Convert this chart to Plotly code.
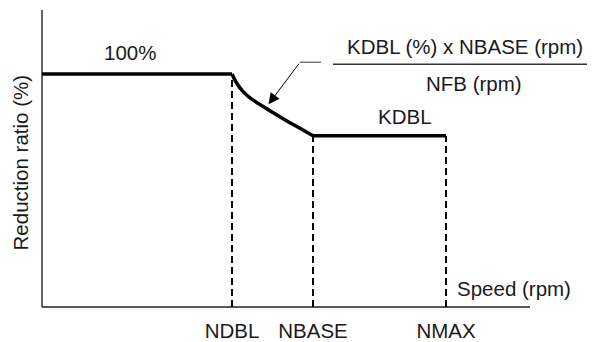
"""Reduction ratio vs. speed: schematic curve with KDBL knee."""

import plotly.graph_objects as go

# speed axis (arbitrary rpm units) and reduction ratio (%)
speed_ticks = [1900, 2710, 4040]
speed_tick_labels = ["NDBL", "NBASE", "NMAX"]
axis_end_speed = 4880

flat_speed = [0, 1900]
flat_ratio = [100, 100]

curve_speed = [1900, 1940, 2000, 2080, 2180, 2300, 2440, 2580, 2710]
curve_ratio = [100, 96.6, 93.0, 89.8, 86.9, 83.7, 80.1, 76.7, 73.5]

kdbl_speed = [2710, 4040]
kdbl_ratio = [73.5, 73.5]

# formula fraction bar and leader line
fraction_speed = [2910, 5530]
fraction_ratio = [104.2, 104.2]
leader_speed = [2580, 2790]
leader_ratio = [105.1, 105.1]
arrow_tail = (2580, 105.1)
arrow_tip = (2265, 87.0)

FONT = "Liberation Sans, Arial, sans-serif"
TEXT = "#1a1a1a"
SIZE = 20.5

# the page body adds an 8px margin, so the figure is 8px smaller
# and its margins are shifted to keep the plot where it belongs
PAGE_PAD = 8
FIG_W, FIG_H = 595 - PAGE_PAD, 342 - PAGE_PAD
M_L, M_T, M_B = 40 - PAGE_PAD, 10 - PAGE_PAD, 28

fig = go.Figure()


def add_line(xs, ys, width, color="black", dash=None, shape="linear"):
    fig.add_trace(
        go.Scatter(
            x=xs,
            y=ys,
            mode="lines",
            line=dict(color=color, width=width, dash=dash, shape=shape),
            hoverinfo="skip",
            showlegend=False,
        )
    )


# axes drawn as lines so the x axis stops short of the right edge
add_line([0, 0], [0, 127.5], 1.4, "#222222")
add_line([0, axis_end_speed], [0, 0], 1.4, "#222222")

# dashed guides
add_line([speed_ticks[0]] * 2, [0, flat_ratio[-1]], 2, dash="7px,4px")
add_line([speed_ticks[1]] * 2, [0, kdbl_ratio[0]], 2, dash="7px,4px")
add_line([speed_ticks[2]] * 2, [0, kdbl_ratio[-1]], 2, dash="7px,4px")

# main characteristic
add_line(flat_speed, flat_ratio, 3.5)
add_line(curve_speed, curve_ratio, 3.5, shape="spline")
add_line(kdbl_speed, kdbl_ratio, 3.5)

add_line(fraction_speed, fraction_ratio, 1.5, "#333333")
add_line(leader_speed, leader_ratio, 1, "#333333")

labels = [
    ("100%", 880, 109.1, "center"),
    ("KDBL (%) x NBASE (rpm)", 4230, 111.9, "center"),
    ("NFB (rpm)", 4320, 95.8, "center"),
    ("KDBL", 3630, 81.8, "center"),
    ("Speed (rpm)", 4130, 8.1, "left"),
]
for text, x, y, anchor in labels:
    fig.add_annotation(
        x=x, y=y, text=text, showarrow=False, xanchor=anchor, yanchor="middle",
        font=dict(family=FONT, size=SIZE, color=TEXT),
    )

fig.add_annotation(
    x=arrow_tip[0], y=arrow_tip[1], ax=arrow_tail[0], ay=arrow_tail[1],
    axref="x", ayref="y", text="", showarrow=True,
    arrowhead=2, arrowsize=2.2, arrowwidth=1, arrowcolor="black",
)

# y title sits at window pixel (20, 165.5)
plot_w = FIG_W - M_L
plot_h = FIG_H - M_T - M_B
fig.add_annotation(
    x=(20 - PAGE_PAD - M_L) / plot_w,
    y=1 - (165.5 - PAGE_PAD - M_T) / plot_h,
    xref="x domain", yref="y domain", text="Reduction ratio (%)",
    showarrow=False, textangle=-90, xanchor="center", yanchor="middle",
    font=dict(family=FONT, size=SIZE, color=TEXT),
)

fig.update_layout(
    width=FIG_W,
    height=FIG_H,
    margin=dict(l=M_L, r=0, t=M_T, b=M_B),
    paper_bgcolor="white",
    plot_bgcolor="white",
    showlegend=False,
)
fig.update_xaxes(
    range=[-20, 5530],
    showgrid=False,
    zeroline=False,
    showline=False,
    tickvals=speed_ticks,
    ticktext=speed_tick_labels,
    ticks="",
    ticklabelstandoff=6,
    tickfont=dict(family=FONT, size=SIZE, color=TEXT),
    fixedrange=True,
)
fig.update_yaxes(
    range=[-1.27, 127.5],
    showgrid=False,
    zeroline=False,
    showline=False,
    showticklabels=False,
    fixedrange=True,
)

fig.write_html("out.html", config={"displayModeBar": False})
